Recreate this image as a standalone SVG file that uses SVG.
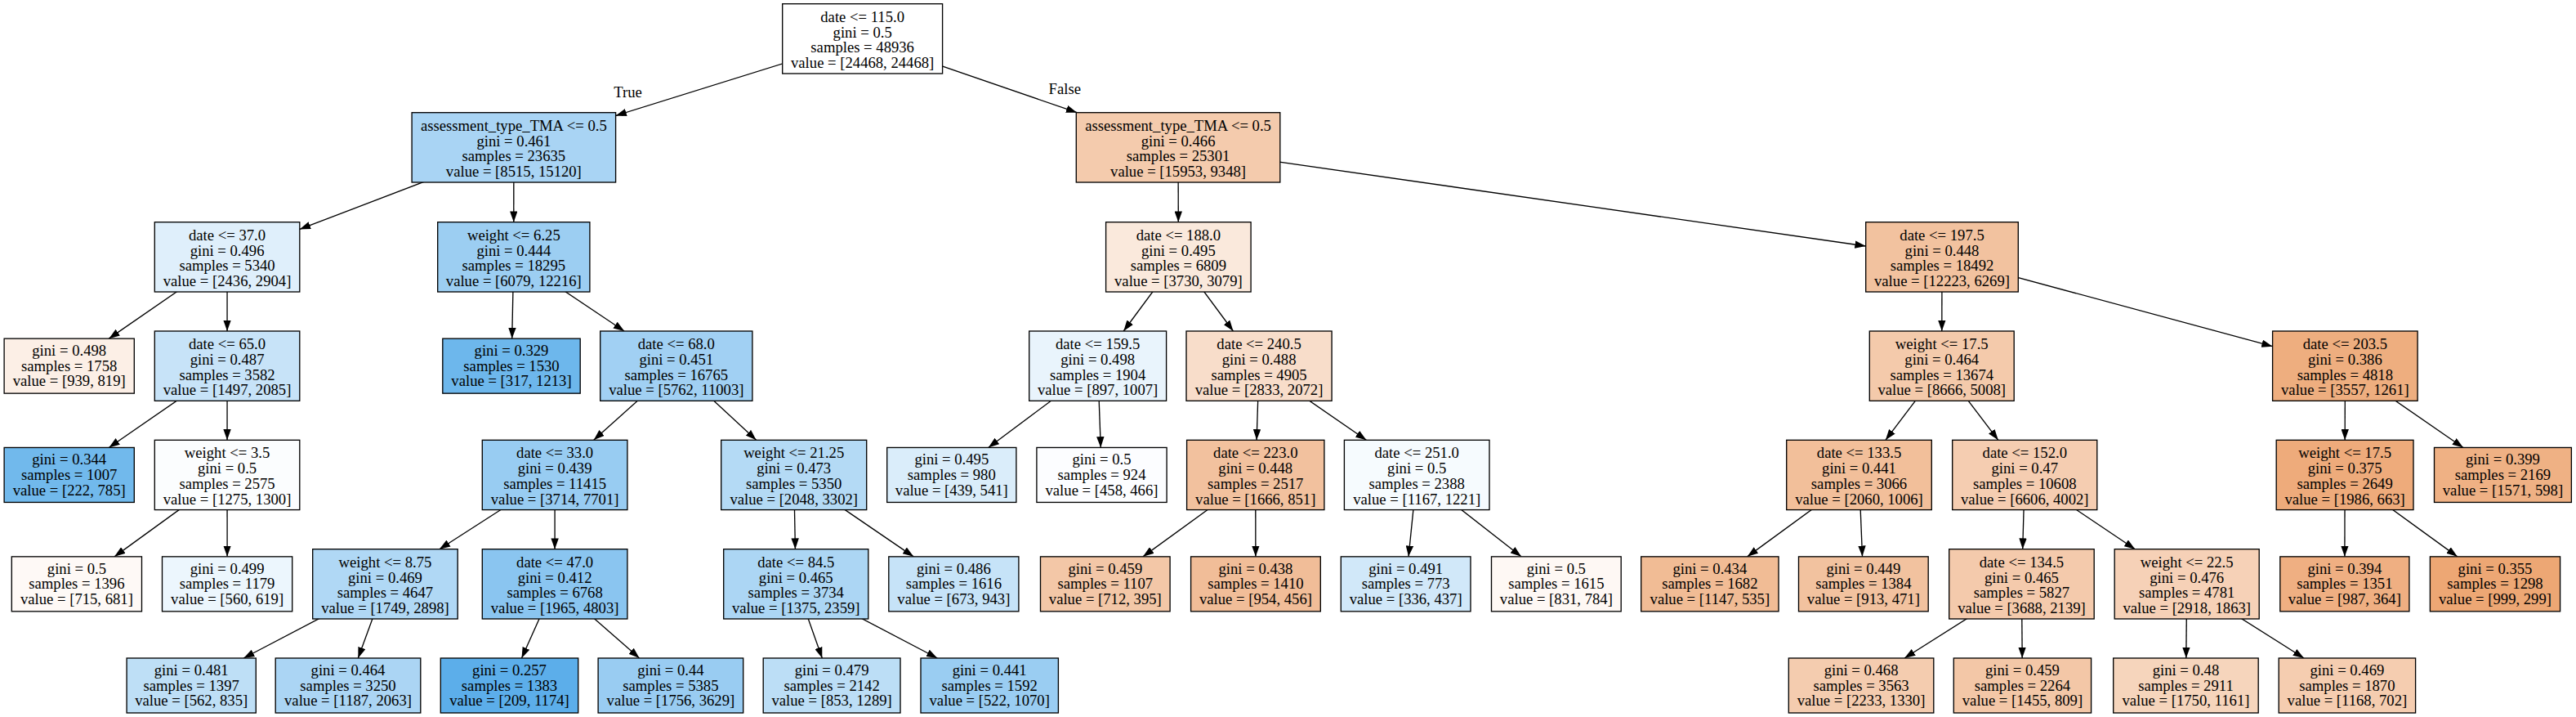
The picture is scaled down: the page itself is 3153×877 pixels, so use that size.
<svg xmlns="http://www.w3.org/2000/svg" width="3153" height="877" viewBox="0 0 3153 877">
<style>
.nd rect{stroke:#000;stroke-width:1.33}
.nd text,.lbl{font-family:"Liberation Serif","Times New Roman",serif;font-size:18.67px;text-anchor:middle;fill:#000}
.e path{fill:none;stroke:#000;stroke-width:1.33;marker-end:url(#ah)}
</style>
<defs>
<marker id="ah" markerUnits="userSpaceOnUse" viewBox="0 0 13.3 9.4" markerWidth="13.3" markerHeight="9.4" refX="13.3" refY="4.7" orient="auto">
<path d="M0,0 L13.3,4.7 L0,9.4 z" fill="#000"/>
</marker>
</defs>
<rect width="3153" height="877" fill="#fff"/>
<g id="connectors" class="e">
<path d="M1055.65 47.35 L753.6 141.5"/>
<path d="M1055.65 47.35 L1318.2 137.7"/>
<path d="M628.85 180.35 L366.8 280.45"/>
<path d="M628.85 180.35 L628.8 271.7"/>
<path d="M278.05 314.35 L133.3 414.15"/>
<path d="M278.05 314.35 L278.05 405"/>
<path d="M278.05 447.65 L133.3 547.45"/>
<path d="M278.05 447.65 L278.05 538.3"/>
<path d="M278.05 580.95 L140.1 680.85"/>
<path d="M278.05 580.95 L278.1 680.85"/>
<path d="M628.8 314.35 L626.7 414.15"/>
<path d="M628.8 314.35 L764.1 405"/>
<path d="M827.8 447.65 L726.7 538.3"/>
<path d="M827.8 447.65 L925.65 538.3"/>
<path d="M679.1 580.95 L537.85 671.7"/>
<path d="M679.1 580.95 L679.1 671.7"/>
<path d="M471.45 714.35 L298.2 805"/>
<path d="M471.45 714.35 L438.3 805"/>
<path d="M679.1 714.35 L638.5 805"/>
<path d="M679.1 714.35 L782.6 805"/>
<path d="M971.7 580.95 L973.4 671.7"/>
<path d="M971.7 580.95 L1118.2 680.85"/>
<path d="M974.25 714.35 L1006.3 805"/>
<path d="M974.25 714.35 L1147.3 805"/>
<path d="M1442.05 180.35 L1442.3 271.7"/>
<path d="M1442.05 180.35 L2283.7 301"/>
<path d="M1442.35 314.35 L1375.25 405"/>
<path d="M1442.35 314.35 L1509.45 405"/>
<path d="M1343.65 447.65 L1209.7 547.45"/>
<path d="M1343.65 447.65 L1347.3 547.45"/>
<path d="M1541.05 447.65 L1538.1 538.3"/>
<path d="M1541.05 447.65 L1672.4 538.3"/>
<path d="M1536.75 580.95 L1399 680.85"/>
<path d="M1536.75 580.95 L1536.9 680.85"/>
<path d="M1734.2 580.95 L1724.05 680.85"/>
<path d="M1734.2 580.95 L1862 680.85"/>
<path d="M2377 314.35 L2376.8 405"/>
<path d="M2377 314.35 L2781.6 423.7"/>
<path d="M2376.75 447.65 L2307.9 538.3"/>
<path d="M2376.75 447.65 L2445.8 538.3"/>
<path d="M2275.5 580.95 L2138.7 680.85"/>
<path d="M2275.5 580.95 L2279.5 680.85"/>
<path d="M2478.25 580.95 L2475.7 671.7"/>
<path d="M2478.25 580.95 L2613.3 671.7"/>
<path d="M2474.45 714.35 L2331.05 805"/>
<path d="M2474.45 714.35 L2475.2 805"/>
<path d="M2676.7 714.35 L2675.8 805"/>
<path d="M2676.7 714.35 L2820 805"/>
<path d="M2870.35 447.65 L2870.2 538.3"/>
<path d="M2870.35 447.65 L3014.95 547.45"/>
<path d="M2870.1 580.95 L2869.9 680.85"/>
<path d="M2870.1 580.95 L3007.8 680.85"/>
<text class="lbl" x="768.6" y="119">True</text>
<text class="lbl" x="1303.3" y="114.5">False</text>
</g>

<g id="n0" class="nd" transform="translate(1055.65,47.35)"><rect x="-97.95" y="-42.65" width="195.9" height="85.3" fill="#ffffff"/><text><tspan x="0" y="-20.6">date &lt;= 115.0</tspan><tspan x="0" y="-1.8">gini = 0.5</tspan><tspan x="0" y="17">samples = 48936</tspan><tspan x="0" y="35.8">value = [24468, 24468]</tspan></text></g>

<g id="n1" class="nd" transform="translate(628.85,180.35)"><rect x="-124.75" y="-42.65" width="249.5" height="85.3" fill="#a9d4f4"/><text><tspan x="0" y="-20.6">assessment_type_TMA &lt;= 0.5</tspan><tspan x="0" y="-1.8">gini = 0.461</tspan><tspan x="0" y="17">samples = 23635</tspan><tspan x="0" y="35.8">value = [8515, 15120]</tspan></text></g>
<g id="n24" class="nd" transform="translate(1442.05,180.35)"><rect x="-124.75" y="-42.65" width="249.5" height="85.3" fill="#f4cbad"/><text><tspan x="0" y="-20.6">assessment_type_TMA &lt;= 0.5</tspan><tspan x="0" y="-1.8">gini = 0.466</tspan><tspan x="0" y="17">samples = 25301</tspan><tspan x="0" y="35.8">value = [15953, 9348]</tspan></text></g>

<g id="n2" class="nd" transform="translate(278.05,314.35)"><rect x="-88.75" y="-42.65" width="177.5" height="85.3" fill="#dfeffb"/><text><tspan x="0" y="-20.6">date &lt;= 37.0</tspan><tspan x="0" y="-1.8">gini = 0.496</tspan><tspan x="0" y="17">samples = 5340</tspan><tspan x="0" y="35.8">value = [2436, 2904]</tspan></text></g>
<g id="n9" class="nd" transform="translate(628.8,314.35)"><rect x="-93.1" y="-42.65" width="186.2" height="85.3" fill="#9ccef2"/><text><tspan x="0" y="-20.6">weight &lt;= 6.25</tspan><tspan x="0" y="-1.8">gini = 0.444</tspan><tspan x="0" y="17">samples = 18295</tspan><tspan x="0" y="35.8">value = [6079, 12216]</tspan></text></g>
<g id="n25" class="nd" transform="translate(1442.35,314.35)"><rect x="-88.75" y="-42.65" width="177.5" height="85.3" fill="#fae9dc"/><text><tspan x="0" y="-20.6">date &lt;= 188.0</tspan><tspan x="0" y="-1.8">gini = 0.495</tspan><tspan x="0" y="17">samples = 6809</tspan><tspan x="0" y="35.8">value = [3730, 3079]</tspan></text></g>
<g id="n36" class="nd" transform="translate(2377,314.35)"><rect x="-93.3" y="-42.65" width="186.6" height="85.3" fill="#f2c29f"/><text><tspan x="0" y="-20.6">date &lt;= 197.5</tspan><tspan x="0" y="-1.8">gini = 0.448</tspan><tspan x="0" y="17">samples = 18492</tspan><tspan x="0" y="35.8">value = [12223, 6269]</tspan></text></g>

<g id="n3" class="nd" transform="translate(84.7,447.65)"><rect x="-79.6" y="-33.5" width="159.2" height="67" fill="#fcefe6"/><text><tspan x="0" y="-12.8">gini = 0.498</tspan><tspan x="0" y="6">samples = 1758</tspan><tspan x="0" y="24.8">value = [939, 819]</tspan></text></g>
<g id="n4" class="nd" transform="translate(278.05,447.65)"><rect x="-88.75" y="-42.65" width="177.5" height="85.3" fill="#c7e3f8"/><text><tspan x="0" y="-20.6">date &lt;= 65.0</tspan><tspan x="0" y="-1.8">gini = 0.487</tspan><tspan x="0" y="17">samples = 3582</tspan><tspan x="0" y="35.8">value = [1497, 2085]</tspan></text></g>
<g id="n10" class="nd" transform="translate(626,447.65)"><rect x="-84.2" y="-33.5" width="168.4" height="67" fill="#6db7ec"/><text><tspan x="0" y="-12.8">gini = 0.329</tspan><tspan x="0" y="6">samples = 1530</tspan><tspan x="0" y="24.8">value = [317, 1213]</tspan></text></g>
<g id="n11" class="nd" transform="translate(827.8,447.65)"><rect x="-93.1" y="-42.65" width="186.2" height="85.3" fill="#a1d0f3"/><text><tspan x="0" y="-20.6">date &lt;= 68.0</tspan><tspan x="0" y="-1.8">gini = 0.451</tspan><tspan x="0" y="17">samples = 16765</tspan><tspan x="0" y="35.8">value = [5762, 11003]</tspan></text></g>
<g id="n26" class="nd" transform="translate(1343.65,447.65)"><rect x="-83.95" y="-42.65" width="167.9" height="85.3" fill="#e9f4fc"/><text><tspan x="0" y="-20.6">date &lt;= 159.5</tspan><tspan x="0" y="-1.8">gini = 0.498</tspan><tspan x="0" y="17">samples = 1904</tspan><tspan x="0" y="35.8">value = [897, 1007]</tspan></text></g>
<g id="n29" class="nd" transform="translate(1541.05,447.65)"><rect x="-89.05" y="-42.65" width="178.1" height="85.3" fill="#f8ddca"/><text><tspan x="0" y="-20.6">date &lt;= 240.5</tspan><tspan x="0" y="-1.8">gini = 0.488</tspan><tspan x="0" y="17">samples = 4905</tspan><tspan x="0" y="35.8">value = [2833, 2072]</tspan></text></g>
<g id="n37" class="nd" transform="translate(2376.75,447.65)"><rect x="-88.45" y="-42.65" width="176.9" height="85.3" fill="#f4caab"/><text><tspan x="0" y="-20.6">weight &lt;= 17.5</tspan><tspan x="0" y="-1.8">gini = 0.464</tspan><tspan x="0" y="17">samples = 13674</tspan><tspan x="0" y="35.8">value = [8666, 5008]</tspan></text></g>
<g id="n48" class="nd" transform="translate(2870.35,447.65)"><rect x="-88.75" y="-42.65" width="177.5" height="85.3" fill="#eeae7f"/><text><tspan x="0" y="-20.6">date &lt;= 203.5</tspan><tspan x="0" y="-1.8">gini = 0.386</tspan><tspan x="0" y="17">samples = 4818</tspan><tspan x="0" y="35.8">value = [3557, 1261]</tspan></text></g>

<g id="n5" class="nd" transform="translate(84.7,580.95)"><rect x="-79.6" y="-33.5" width="159.2" height="67" fill="#71b9ec"/><text><tspan x="0" y="-12.8">gini = 0.344</tspan><tspan x="0" y="6">samples = 1007</tspan><tspan x="0" y="24.8">value = [222, 785]</tspan></text></g>
<g id="n6" class="nd" transform="translate(278.05,580.95)"><rect x="-88.75" y="-42.65" width="177.5" height="85.3" fill="#fbfdfe"/><text><tspan x="0" y="-20.6">weight &lt;= 3.5</tspan><tspan x="0" y="-1.8">gini = 0.5</tspan><tspan x="0" y="17">samples = 2575</tspan><tspan x="0" y="35.8">value = [1275, 1300]</tspan></text></g>
<g id="n12" class="nd" transform="translate(679.1,580.95)"><rect x="-88.8" y="-42.65" width="177.6" height="85.3" fill="#98ccf2"/><text><tspan x="0" y="-20.6">date &lt;= 33.0</tspan><tspan x="0" y="-1.8">gini = 0.439</tspan><tspan x="0" y="17">samples = 11415</tspan><tspan x="0" y="35.8">value = [3714, 7701]</tspan></text></g>
<g id="n19" class="nd" transform="translate(971.7,580.95)"><rect x="-89" y="-42.65" width="178" height="85.3" fill="#b4daf5"/><text><tspan x="0" y="-20.6">weight &lt;= 21.25</tspan><tspan x="0" y="-1.8">gini = 0.473</tspan><tspan x="0" y="17">samples = 5350</tspan><tspan x="0" y="35.8">value = [2048, 3302]</tspan></text></g>
<g id="n27" class="nd" transform="translate(1164.8,580.95)"><rect x="-79.1" y="-33.5" width="158.2" height="67" fill="#daedfa"/><text><tspan x="0" y="-12.8">gini = 0.495</tspan><tspan x="0" y="6">samples = 980</tspan><tspan x="0" y="24.8">value = [439, 541]</tspan></text></g>
<g id="n28" class="nd" transform="translate(1348.5,580.95)"><rect x="-79.6" y="-33.5" width="159.2" height="67" fill="#fcfdff"/><text><tspan x="0" y="-12.8">gini = 0.5</tspan><tspan x="0" y="6">samples = 924</tspan><tspan x="0" y="24.8">value = [458, 466]</tspan></text></g>
<g id="n30" class="nd" transform="translate(1536.75,580.95)"><rect x="-84.15" y="-42.65" width="168.3" height="85.3" fill="#f2c19e"/><text><tspan x="0" y="-20.6">date &lt;= 223.0</tspan><tspan x="0" y="-1.8">gini = 0.448</tspan><tspan x="0" y="17">samples = 2517</tspan><tspan x="0" y="35.8">value = [1666, 851]</tspan></text></g>
<g id="n33" class="nd" transform="translate(1734.2,580.95)"><rect x="-88.8" y="-42.65" width="177.6" height="85.3" fill="#f6fbfe"/><text><tspan x="0" y="-20.6">date &lt;= 251.0</tspan><tspan x="0" y="-1.8">gini = 0.5</tspan><tspan x="0" y="17">samples = 2388</tspan><tspan x="0" y="35.8">value = [1167, 1221]</tspan></text></g>
<g id="n38" class="nd" transform="translate(2275.5,580.95)"><rect x="-88.8" y="-42.65" width="177.6" height="85.3" fill="#f2bf9a"/><text><tspan x="0" y="-20.6">date &lt;= 133.5</tspan><tspan x="0" y="-1.8">gini = 0.441</tspan><tspan x="0" y="17">samples = 3066</tspan><tspan x="0" y="35.8">value = [2060, 1006]</tspan></text></g>
<g id="n41" class="nd" transform="translate(2478.25,580.95)"><rect x="-88.55" y="-42.65" width="177.1" height="85.3" fill="#f5cdb1"/><text><tspan x="0" y="-20.6">date &lt;= 152.0</tspan><tspan x="0" y="-1.8">gini = 0.47</tspan><tspan x="0" y="17">samples = 10608</tspan><tspan x="0" y="35.8">value = [6606, 4002]</tspan></text></g>
<g id="n49" class="nd" transform="translate(2870.1,580.95)"><rect x="-83.9" y="-42.65" width="167.8" height="85.3" fill="#eeab7b"/><text><tspan x="0" y="-20.6">weight &lt;= 17.5</tspan><tspan x="0" y="-1.8">gini = 0.375</tspan><tspan x="0" y="17">samples = 2649</tspan><tspan x="0" y="35.8">value = [1986, 663]</tspan></text></g>
<g id="n52" class="nd" transform="translate(3063.45,580.95)"><rect x="-83.95" y="-33.5" width="167.9" height="67" fill="#efb184"/><text><tspan x="0" y="-12.8">gini = 0.399</tspan><tspan x="0" y="6">samples = 2169</tspan><tspan x="0" y="24.8">value = [1571, 598]</tspan></text></g>

<g id="n7" class="nd" transform="translate(93.9,714.35)"><rect x="-79.6" y="-33.5" width="159.2" height="67" fill="#fef9f6"/><text><tspan x="0" y="-12.8">gini = 0.5</tspan><tspan x="0" y="6">samples = 1396</tspan><tspan x="0" y="24.8">value = [715, 681]</tspan></text></g>
<g id="n8" class="nd" transform="translate(278.1,714.35)"><rect x="-79.6" y="-33.5" width="159.2" height="67" fill="#ecf6fd"/><text><tspan x="0" y="-12.8">gini = 0.499</tspan><tspan x="0" y="6">samples = 1179</tspan><tspan x="0" y="24.8">value = [560, 619]</tspan></text></g>
<g id="n13" class="nd" transform="translate(471.45,714.35)"><rect x="-88.75" y="-42.65" width="177.5" height="85.3" fill="#b0d8f5"/><text><tspan x="0" y="-20.6">weight &lt;= 8.75</tspan><tspan x="0" y="-1.8">gini = 0.469</tspan><tspan x="0" y="17">samples = 4647</tspan><tspan x="0" y="35.8">value = [1749, 2898]</tspan></text></g>
<g id="n16" class="nd" transform="translate(679.1,714.35)"><rect x="-88.8" y="-42.65" width="177.6" height="85.3" fill="#8ac5f0"/><text><tspan x="0" y="-20.6">date &lt;= 47.0</tspan><tspan x="0" y="-1.8">gini = 0.412</tspan><tspan x="0" y="17">samples = 6768</tspan><tspan x="0" y="35.8">value = [1965, 4803]</tspan></text></g>
<g id="n20" class="nd" transform="translate(974.25,714.35)"><rect x="-88.55" y="-42.65" width="177.1" height="85.3" fill="#acd6f4"/><text><tspan x="0" y="-20.6">date &lt;= 84.5</tspan><tspan x="0" y="-1.8">gini = 0.465</tspan><tspan x="0" y="17">samples = 3734</tspan><tspan x="0" y="35.8">value = [1375, 2359]</tspan></text></g>
<g id="n23" class="nd" transform="translate(1167.35,714.35)"><rect x="-79.55" y="-33.5" width="159.1" height="67" fill="#c6e3f8"/><text><tspan x="0" y="-12.8">gini = 0.486</tspan><tspan x="0" y="6">samples = 1616</tspan><tspan x="0" y="24.8">value = [673, 943]</tspan></text></g>
<g id="n31" class="nd" transform="translate(1352.8,714.35)"><rect x="-79.3" y="-33.5" width="158.6" height="67" fill="#f3c7a7"/><text><tspan x="0" y="-12.8">gini = 0.459</tspan><tspan x="0" y="6">samples = 1107</tspan><tspan x="0" y="24.8">value = [712, 395]</tspan></text></g>
<g id="n32" class="nd" transform="translate(1536.95,714.35)"><rect x="-79.35" y="-33.5" width="158.7" height="67" fill="#f1bd98"/><text><tspan x="0" y="-12.8">gini = 0.438</tspan><tspan x="0" y="6">samples = 1410</tspan><tspan x="0" y="24.8">value = [954, 456]</tspan></text></g>
<g id="n34" class="nd" transform="translate(1720.65,714.35)"><rect x="-79.35" y="-33.5" width="158.7" height="67" fill="#d1e8f9"/><text><tspan x="0" y="-12.8">gini = 0.491</tspan><tspan x="0" y="6">samples = 773</tspan><tspan x="0" y="24.8">value = [336, 437]</tspan></text></g>
<g id="n35" class="nd" transform="translate(1904.85,714.35)"><rect x="-79.35" y="-33.5" width="158.7" height="67" fill="#fef8f4"/><text><tspan x="0" y="-12.8">gini = 0.5</tspan><tspan x="0" y="6">samples = 1615</tspan><tspan x="0" y="24.8">value = [831, 784]</tspan></text></g>
<g id="n39" class="nd" transform="translate(2092.85,714.35)"><rect x="-84.15" y="-33.5" width="168.3" height="67" fill="#f1bc95"/><text><tspan x="0" y="-12.8">gini = 0.434</tspan><tspan x="0" y="6">samples = 1682</tspan><tspan x="0" y="24.8">value = [1147, 535]</tspan></text></g>
<g id="n40" class="nd" transform="translate(2280.85,714.35)"><rect x="-79.35" y="-33.5" width="158.7" height="67" fill="#f2c29f"/><text><tspan x="0" y="-12.8">gini = 0.449</tspan><tspan x="0" y="6">samples = 1384</tspan><tspan x="0" y="24.8">value = [913, 471]</tspan></text></g>
<g id="n42" class="nd" transform="translate(2474.45,714.35)"><rect x="-88.75" y="-42.65" width="177.5" height="85.3" fill="#f4caac"/><text><tspan x="0" y="-20.6">date &lt;= 134.5</tspan><tspan x="0" y="-1.8">gini = 0.465</tspan><tspan x="0" y="17">samples = 5827</tspan><tspan x="0" y="35.8">value = [3688, 2139]</tspan></text></g>
<g id="n45" class="nd" transform="translate(2676.7,714.35)"><rect x="-88.5" y="-42.65" width="177" height="85.3" fill="#f6d1b7"/><text><tspan x="0" y="-20.6">weight &lt;= 22.5</tspan><tspan x="0" y="-1.8">gini = 0.476</tspan><tspan x="0" y="17">samples = 4781</tspan><tspan x="0" y="35.8">value = [2918, 1863]</tspan></text></g>
<g id="n50" class="nd" transform="translate(2869.85,714.35)"><rect x="-79.05" y="-33.5" width="158.1" height="67" fill="#efaf82"/><text><tspan x="0" y="-12.8">gini = 0.394</tspan><tspan x="0" y="6">samples = 1351</tspan><tspan x="0" y="24.8">value = [987, 364]</tspan></text></g>
<g id="n51" class="nd" transform="translate(3054,714.35)"><rect x="-79.6" y="-33.5" width="159.2" height="67" fill="#eda774"/><text><tspan x="0" y="-12.8">gini = 0.355</tspan><tspan x="0" y="6">samples = 1298</tspan><tspan x="0" y="24.8">value = [999, 299]</tspan></text></g>

<g id="n14" class="nd" transform="translate(234.2,838.5)"><rect x="-79.1" y="-33.5" width="158.2" height="67" fill="#bedff6"/><text><tspan x="0" y="-12.8">gini = 0.481</tspan><tspan x="0" y="6">samples = 1397</tspan><tspan x="0" y="24.8">value = [562, 835]</tspan></text></g>
<g id="n15" class="nd" transform="translate(426,838.5)"><rect x="-88.8" y="-33.5" width="177.6" height="67" fill="#abd5f4"/><text><tspan x="0" y="-12.8">gini = 0.464</tspan><tspan x="0" y="6">samples = 3250</tspan><tspan x="0" y="24.8">value = [1187, 2063]</tspan></text></g>
<g id="n17" class="nd" transform="translate(623.5,838.5)"><rect x="-84.2" y="-33.5" width="168.4" height="67" fill="#5caeea"/><text><tspan x="0" y="-12.8">gini = 0.257</tspan><tspan x="0" y="6">samples = 1383</tspan><tspan x="0" y="24.8">value = [209, 1174]</tspan></text></g>
<g id="n18" class="nd" transform="translate(820.9,838.5)"><rect x="-88.8" y="-33.5" width="177.6" height="67" fill="#99ccf2"/><text><tspan x="0" y="-12.8">gini = 0.44</tspan><tspan x="0" y="6">samples = 5385</tspan><tspan x="0" y="24.8">value = [1756, 3629]</tspan></text></g>
<g id="n21" class="nd" transform="translate(1018.1,838.5)"><rect x="-83.9" y="-33.5" width="167.8" height="67" fill="#bcdef6"/><text><tspan x="0" y="-12.8">gini = 0.479</tspan><tspan x="0" y="6">samples = 2142</tspan><tspan x="0" y="24.8">value = [853, 1289]</tspan></text></g>
<g id="n22" class="nd" transform="translate(1211.2,838.5)"><rect x="-84.2" y="-33.5" width="168.4" height="67" fill="#9acdf2"/><text><tspan x="0" y="-12.8">gini = 0.441</tspan><tspan x="0" y="6">samples = 1592</tspan><tspan x="0" y="24.8">value = [522, 1070]</tspan></text></g>
<g id="n43" class="nd" transform="translate(2278.05,838.5)"><rect x="-88.75" y="-33.5" width="177.5" height="67" fill="#f4ccaf"/><text><tspan x="0" y="-12.8">gini = 0.468</tspan><tspan x="0" y="6">samples = 3563</tspan><tspan x="0" y="24.8">value = [2233, 1330]</tspan></text></g>
<g id="n44" class="nd" transform="translate(2475.45,838.5)"><rect x="-84.15" y="-33.5" width="168.3" height="67" fill="#f3c7a7"/><text><tspan x="0" y="-12.8">gini = 0.459</tspan><tspan x="0" y="6">samples = 2264</tspan><tspan x="0" y="24.8">value = [1455, 809]</tspan></text></g>
<g id="n46" class="nd" transform="translate(2675.45,838.5)"><rect x="-88.75" y="-33.5" width="177.5" height="67" fill="#f6d5bc"/><text><tspan x="0" y="-12.8">gini = 0.48</tspan><tspan x="0" y="6">samples = 2911</tspan><tspan x="0" y="24.8">value = [1750, 1161]</tspan></text></g>
<g id="n47" class="nd" transform="translate(2872.9,838.5)"><rect x="-83.7" y="-33.5" width="167.4" height="67" fill="#f5cdb0"/><text><tspan x="0" y="-12.8">gini = 0.469</tspan><tspan x="0" y="6">samples = 1870</tspan><tspan x="0" y="24.8">value = [1168, 702]</tspan></text></g>
</svg>
